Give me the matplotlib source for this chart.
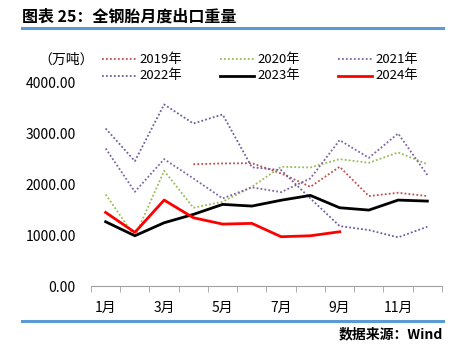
import matplotlib
matplotlib.use('Agg')
import matplotlib.pyplot as plt
from matplotlib.lines import Line2D

plt.rcParams['font.family'] = ['Noto Sans CJK SC', 'DejaVu Sans']

months = ['1月', '2月', '3月', '4月', '5月', '6月', '7月', '8月', '9月', '10月', '11月', '12月']
tick_labels = ['1月', '', '3月', '', '5月', '', '7月', '', '9月', '', '11月', '']

y2019 = [None, None, None, 2400, 2415, 2420, 2218, 1955, 2349, 1772, 1837, 1772]
y2020 = [1805, 971, 2270, 1542, 1660, 1955, 2349, 2336, 2500, 2428, 2632, 2400]
y2021 = [2710, 1857, 2500, 2120, 1726, 1943, 1850, 2120, 2874, 2526, 3005, 2185]
y2022 = [3104, 2460, 3577, 3202, 3380, 2340, 2283, 1726, 1181, 1102, 958, 1168]
y2023 = [1266, 990, 1246, 1411, 1608, 1575, 1690, 1785, 1542, 1496, 1693, 1673]
y2024 = [1450, 1057, 1693, 1345, 1220, 1234, 971, 990, 1069]

W, H = 460, 355
fig = plt.figure(figsize=(4.6, 3.55), dpi=100)
ax = fig.add_axes([91 / W, 1 - 286 / H, (442 - 91) / W, (286 - 83) / H])

x = list(range(12))
def pts(vals):
    xs = [i for i, v in enumerate(vals) if v is not None]
    return xs, [vals[i] for i in xs]

dot = (0, (1, 1.2))
series = [
    ('2019年', y2019, '#C0504D', dot, 1.3),
    ('2020年', y2020, '#9BBB59', dot, 1.3),
    ('2021年', y2021, '#8064A2', dot, 1.3),
    ('2022年', y2022, '#6F5D9E', dot, 1.3),
    ('2023年', y2023, '#000000', '-', 2.0),
    ('2024年', y2024, '#FF0000', '-', 2.0),
]
for name, vals, c, ls, lw in series:
    xs, ys = pts(vals)
    ax.plot(xs, ys, color=c, linestyle=ls, linewidth=lw)

ax.set_xlim(-0.5, 11.5)
ax.set_ylim(0, 4000)
ax.set_yticks([0, 1000, 2000, 3000, 4000])
ax.set_yticklabels(['0.00', '1000.00', '2000.00', '3000.00', '4000.00'], fontsize=10)
ax.set_xticks(x)
ax.set_xticklabels(tick_labels, fontsize=10)
ax.set_xticks([i - 0.5 for i in range(13)], minor=True)
ax.tick_params(axis='x', which='major', length=0, pad=11)
ax.tick_params(axis='x', which='minor', length=4, color='#A0A0A0', direction='out')
ax.tick_params(axis='y', length=0, pad=11)
for s in ['top', 'right', 'left']:
    ax.spines[s].set_visible(False)
ax.spines['bottom'].set_color('#A0A0A0')

# legend, drawn by hand in three columns
col_x = [102, 220, 338]
row_y = [59, 76]
for k, (name, _, c, ls, lw) in enumerate(series):
    x0 = col_x[k % 3]
    yy = 1 - row_y[k // 3] / H
    fig.add_artist(Line2D([x0 / W, (x0 + 34) / W], [yy, yy], color=c, linestyle=ls, linewidth=lw))
    fig.text((x0 + 37) / W, yy, name, fontsize=9.5, va='center', ha='left')

fig.text(38 / W, 1 - 60 / H, '（万吨）', fontsize=10, va='center', ha='left')

# title and decorations
fig.text(22 / W, 1 - 17 / H, '图表 25：全钢胎月度出口重量', fontsize=11.5, fontweight='bold',
         va='center', ha='left')
fig.add_artist(Line2D([22 / W, 443 / W], [1 - 28 / H, 1 - 28 / H], color='#5B9BD5', linewidth=2.2))
fig.add_artist(Line2D([22 / W, 443 / W], [1 - 321 / H, 1 - 321 / H], color='#5B9BD5', linewidth=2.2))
fig.text(443 / W, 1 - 334 / H, '数据来源：Wind', fontsize=10, fontweight='bold',
         va='center', ha='right')

fig.savefig('out.png', dpi=100)
